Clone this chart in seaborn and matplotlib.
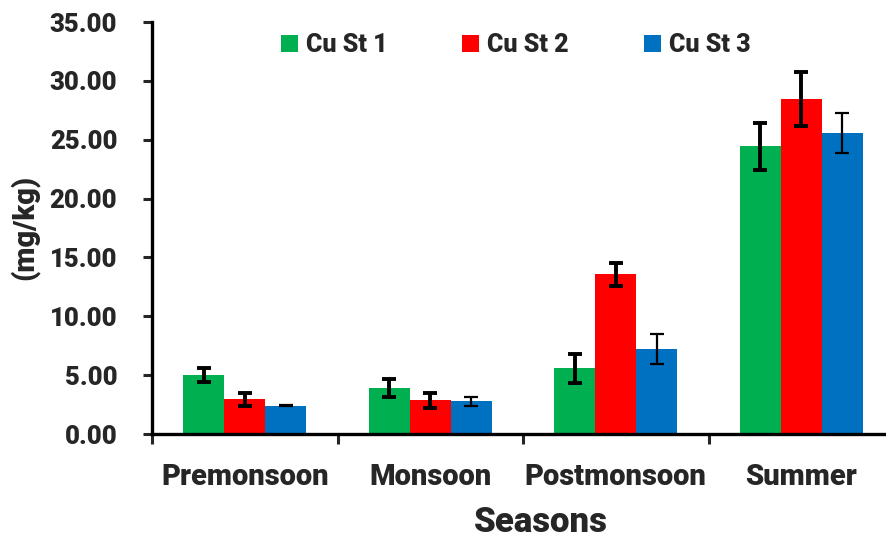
import matplotlib
matplotlib.use("Agg")
import matplotlib.pyplot as plt
from matplotlib.patches import Patch
from matplotlib.ticker import FixedLocator
import seaborn as sns
import pandas as pd
import numpy as np

seasons = ["Premonsoon", "Monsoon", "Postmonsoon", "Summer"]
stations = ["Cu St 1", "Cu St 2", "Cu St 3"]
colors = ["#00B050", "#FF0000", "#0070C0"]

st1_mean = [5.00, 3.88, 5.58, 24.45]
st2_mean = [2.95, 2.86, 13.57, 28.45]
st3_mean = [2.40, 2.78, 7.22, 25.60]
st1_err = [0.60, 0.75, 1.25, 2.00]
st2_err = [0.57, 0.66, 0.96, 2.30]
st3_err = [0.05, 0.38, 1.25, 1.70]

means = [st1_mean, st2_mean, st3_mean]
errs = [st1_err, st2_err, st3_err]

rows = []
for st, vals in zip(stations, means):
    for s, v in zip(seasons, vals):
        rows.append({"Season": s, "Station": st, "Value": v})
df = pd.DataFrame(rows)

sns.set_style("white")
FAM = ["Roboto", "DejaVu Sans"]
W = 900
plt.rcParams["font.family"] = FAM
plt.rcParams["font.weight"] = W

fig = plt.figure(figsize=(8.86, 5.42), dpi=100)
ax = fig.add_axes([152 / 886, 1 - 434 / 542, (894 - 152) / 886, (434 - 22) / 542])

sns.barplot(data=df, x="Season", y="Value", hue="Station", order=seasons,
            hue_order=stations, palette=colors, width=0.663, gap=0,
            errorbar=None, ax=ax, legend=False, saturation=1,
            edgecolor="none", linewidth=0)

err_lw = [2.8, 2.8, 1.6]
for cont, err, lw in zip(ax.containers, errs, err_lw):
    xs = [p.get_x() + p.get_width() / 2 for p in cont.patches]
    ys = [p.get_height() for p in cont.patches]
    ax.errorbar(xs, ys, yerr=err, fmt="none", ecolor="black",
                elinewidth=lw, capsize=5, capthick=lw, zorder=5)

ax.set_ylim(0, 35)
ax.set_xlim(-0.5, 3.5)
yt = np.arange(0, 35.01, 5)
ax.set_yticks(yt)
ax.set_yticklabels([f"{v:.2f}" for v in yt], fontsize=18.5, fontweight=W)
ax.set_xticks(range(len(seasons)))
ax.set_xticklabels(seasons, fontsize=21, fontweight=W)
ax.xaxis.set_minor_locator(FixedLocator([-0.5, 0.5, 1.5, 2.5, 3.5]))
ax.tick_params(axis="x", which="major", length=0, pad=21)
ax.tick_params(axis="x", which="minor", length=7, width=2.2, direction="out",
               bottom=True)
ax.tick_params(axis="y", length=6.5, width=2.2, direction="out", left=True,
               pad=18.5)

for side in ["top", "right"]:
    ax.spines[side].set_visible(False)
for side in ["left", "bottom"]:
    ax.spines[side].set_linewidth(2.4)
    ax.spines[side].set_color("black")

ax.set_xlabel("Seasons", fontsize=25, fontweight=W)
ax.xaxis.set_label_coords((541 - 152) / 742, (434 - 523) / 412)
ax.xaxis.label.set_va("center")
ax.set_ylabel("(mg/kg)", fontsize=21, fontweight=W)
ax.yaxis.set_label_coords((24 - 152) / 742, (434 - 227.5) / 412)
ax.yaxis.label.set_va("center")

handles = [Patch(facecolor=c, edgecolor="none") for c in colors]
fig.legend(handles, stations, loc="center",
           bbox_to_anchor=(515.5 / 886, 1 - 45 / 542),
           ncol=3, frameon=False, handlelength=0.68, handleheight=0.68,
           handletextpad=0.32, columnspacing=3.0, borderpad=0,
           prop={"family": FAM, "weight": W, "size": 18})

fig.savefig("out.png", dpi=100)
